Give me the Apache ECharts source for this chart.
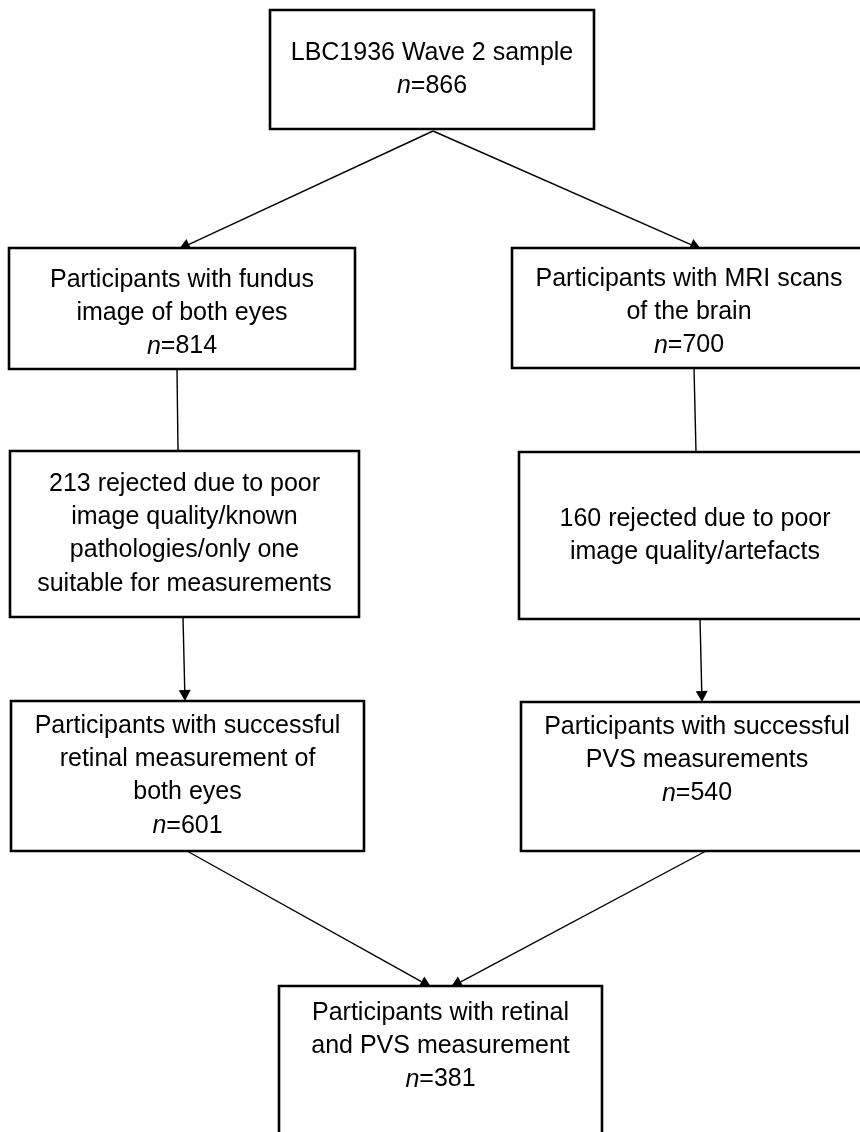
<!DOCTYPE html>
<html><head><meta charset="utf-8">
<script src="https://cdn.jsdelivr.net/npm/echarts@6/dist/echarts.min.js"></script>
<style>html,body{margin:0;padding:0;background:#fff}#c{width:860px;height:1132px}</style>
</head><body><div id="c"></div>
<script>
// ---- content ----
const boxText = [
  ["LBC1936 Wave 2 sample"],
  ["Participants with fundus", "image of both eyes"],
  ["Participants with MRI scans", "of the brain"],
  ["213 rejected due to poor", "image quality/known", "pathologies/only one", "suitable for measurements"],
  ["160 rejected due to poor", "image quality/artefacts"],
  ["Participants with successful", "retinal measurement of", "both eyes"],
  ["Participants with successful", "PVS measurements"],
  ["Participants with retinal", "and PVS measurement"]
];
const boxCounts = [866, 814, 700, null, null, 601, 540, 381];
// edges: [fromBox, toBox, hasArrow]
const edges = [[0,1,true],[0,2,true],[1,3,false],[2,4,false],[3,5,true],[4,6,true],[5,7,true],[6,7,true]];

// ---- layout (kept separate from data) ----
const boxLayout = [ // x0, y0, x1, y1, first text line centre y
  [270, 10, 594, 129, 53],
  [9, 248, 355, 369, 280],
  [512, 248, 866, 368, 279],
  [10, 451, 359, 617, 484],
  [519, 452, 871, 619, 519],
  [11, 701, 364, 851, 726],
  [521, 702, 873, 851, 727],
  [279, 986, 602, 1160, 1013]
];
const edgeLayout = [ // x0, y0, x1, y1 (arrow tip)
  [433, 131, 179, 249],
  [433, 131, 701, 249],
  [177, 369, 178, 451],
  [694, 368, 696, 452],
  [183, 617, 185, 701],
  [700, 619, 702, 702],
  [187, 851, 431, 987],
  [706, 851, 451, 987]
];
const LINE_H = 33.3;
const FONT = 'Liberation Sans, Arial, sans-serif';
const FSIZE = 25;

const chart = echarts.init(document.getElementById('c'), null, {renderer: 'canvas'});

function renderBox(params, api) {
  const i = api.value(0);
  const L = boxLayout[i];
  const p0 = api.coord([L[0], L[1]]);
  const p1 = api.coord([L[2], L[3]]);
  const cx = (p0[0] + p1[0]) / 2;
  const children = [{
    type: 'rect',
    shape: {x: p0[0], y: p0[1], width: p1[0] - p0[0], height: p1[1] - p0[1]},
    style: {fill: '#fff', stroke: '#000', lineWidth: 2.6}
  }];
  const texts = boxText[i].slice();
  if (boxCounts[i] != null) texts.push('{i|n}=' + boxCounts[i]);
  const yStart = api.coord([0, L[4]])[1];
  texts.forEach((t, k) => {
    children.push({
      type: 'text',
      style: {
        text: t, x: cx, y: yStart + k * LINE_H,
        align: 'center', verticalAlign: 'middle',
        fontFamily: FONT, fontSize: FSIZE, fill: '#000',
        rich: {i: {fontStyle: 'italic', fontFamily: FONT, fontSize: FSIZE, fill: '#000'}}
      }
    });
  });
  return {type: 'group', children};
}

function renderEdge(params, api) {
  const e = api.value(0);
  const L = edgeLayout[e];
  const a = api.coord([L[0], L[1]]);
  const b = api.coord([L[2], L[3]]);
  const dx = b[0] - a[0], dy = b[1] - a[1];
  const len = Math.hypot(dx, dy);
  const ux = dx / len, uy = dy / len;
  const nx = -uy, ny = ux;
  const hasArrow = edges[e][2];
  const AL = 11, AW = 6;
  const end = hasArrow ? [b[0] - ux * AL, b[1] - uy * AL] : b;
  const children = [{
    type: 'line',
    shape: {x1: a[0], y1: a[1], x2: end[0], y2: end[1]},
    style: {stroke: '#000', lineWidth: 1.4}
  }];
  if (hasArrow) {
    children.push({
      type: 'polygon',
      shape: {points: [b, [end[0] + nx * AW, end[1] + ny * AW], [end[0] - nx * AW, end[1] - ny * AW]]},
      style: {fill: '#000'}
    });
  }
  return {type: 'group', children};
}

chart.setOption({
  animation: false,
  backgroundColor: '#fff',
  grid: {left: 0, right: 0, top: 0, bottom: 0},
  xAxis: {type: 'value', min: 0, max: 860, show: false},
  yAxis: {type: 'value', min: 0, max: 1132, inverse: true, show: false},
  series: [
    {type: 'custom', renderItem: renderEdge, data: edges.map((e, k) => [k]), clip: false, z: 1},
    {type: 'custom', renderItem: renderBox, data: boxText.map((b, k) => [k]), clip: false, z: 2}
  ]
});
</script></body></html>
